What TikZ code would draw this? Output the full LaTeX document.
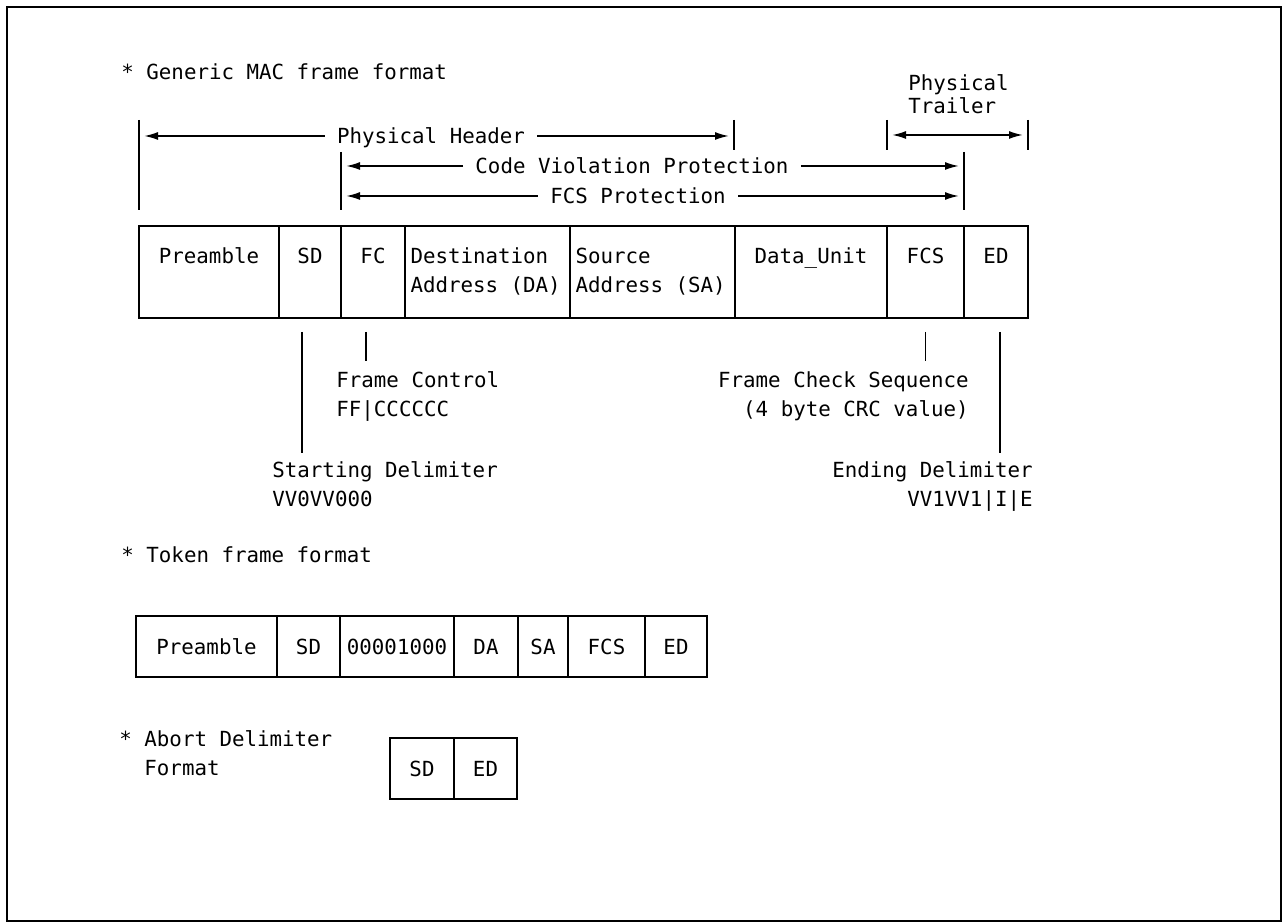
\documentclass[tikz,border=0pt]{standalone}
\usepackage{fontspec}
\setmainfont{DejaVu Sans Mono}
\usetikzlibrary{arrows.meta,fit}
\newcommand{\fmtlines}[2][l]{\begin{tabular}[t]{@{}#1@{}}#2\end{tabular}}
\tikzset{
	field/.style={draw,line width=0.9pt,inner sep=0pt},
	txt/.style={inner sep=0pt,anchor=base},
	dimtxt/.style={inner xsep=6pt,inner ysep=0pt,text height=7.6pt,text depth=0pt},
	rule/.style={line width=0.9pt},
	dim/.style={line width=0.9pt,shorten >=2.5pt,-{Latex[length=7pt,width=4pt]}},
	dimboth/.style={dim,shorten <=2.5pt,{Latex[length=7pt,width=4pt]}-{Latex[length=7pt,width=4pt]}},
}
\begin{document}
\begin{tikzpicture}[x=0.5pt,y=-0.5pt,font=\fontsize{10.4}{14.5}\selectfont]
	\useasboundingbox (0,0) rectangle (1284,924);
	\draw[rule] (7,7) rectangle (1281,921);

	% generic MAC frame
	\node[txt,anchor=base west] (mactitle) at (121,79.5) {* Generic MAC frame format};
	\foreach \nm/\xa/\xb in {pre/139/279,sd/279/341,fc/341/405,da/405/570,sa/570/735,du/735/887,fcs/887/964,ed/964/1028}
	{
		\node[field,fit={(\xa,226) (\xb,318)}] (\nm) {};
	}
	\foreach \nm/\lbl in {pre/Preamble,sd/SD,fc/FC,du/Data\_Unit,fcs/FCS,ed/ED}
	{
		\node[txt] at ([yshift=-19.25pt]\nm.north) {\lbl};
	}
	\node[txt,anchor=base west] at ([xshift=3pt,yshift=-19.25pt]da.north west) {\fmtlines{Destination\\Address (DA)}};
	\node[txt,anchor=base west] at ([xshift=3pt,yshift=-19.25pt]sa.north west) {\fmtlines{Source\\Address (SA)}};

	% extents above the frame
	\draw[rule] (139,120) -- (139,210);
	\draw[rule] (734,120) -- (734,150);
	\draw[rule] (887,120) -- (887,150);
	\draw[rule] (1028,120) -- (1028,150);
	\draw[rule] (341,152) -- (341,210);
	\draw[rule] (964,152) -- (964,210);
	\coordinate (hdL) at (139,136);
	\coordinate (hdR) at (734,136);
	\coordinate (trL) at (887,135);
	\coordinate (trR) at (1028,135);
	\coordinate (cvL) at (341,166);
	\coordinate (cvR) at (964,166);
	\coordinate (fpL) at (341,196);
	\coordinate (fpR) at (964,196);
	\node[dimtxt] (hdr) at (431,136) {Physical Header};
	\draw[dim] (hdr) -- (hdL);
	\draw[dim] (hdr) -- (hdR);
	\node[txt,anchor=base west,font=\fontsize{10.4}{11}\selectfont] (trl) at (908,90.5) {\fmtlines{Physical\\Trailer}};
	\draw[dimboth] (trL) -- (trR);
	\node[dimtxt] (cvp) at (632,166) {Code Violation Protection};
	\draw[dim] (cvp) -- (cvL);
	\draw[dim] (cvp) -- (cvR);
	\node[dimtxt] (fcsp) at (638,196) {FCS Protection};
	\draw[dim] (fcsp) -- (fpL);
	\draw[dim] (fcsp) -- (fpR);

	% field notes below
	\draw[rule] ([xshift=-4pt,yshift=-6.5pt]sd.south) -- ++(0,121);
	\draw[rule] ([xshift=-3.5pt,yshift=-6.5pt]fc.south) -- ++(0,29);
	\draw[rule] ([yshift=-6.5pt]fcs.south) -- ++(0,29);
	\draw[rule] ([xshift=2pt,yshift=-6.5pt]ed.south) -- ++(0,121);
	\node[txt,anchor=base west] (fclbl) at (336,387.5) {\fmtlines{Frame Control\\FF|CCCCCC}};
	\node[txt,anchor=base east] (fcslbl) at (969,387.5) {\fmtlines[r]{Frame Check Sequence\\(4 byte CRC value)}};
	\node[txt,anchor=base west] (sdlbl) at (272,477.5) {\fmtlines{Starting Delimiter\\VV0VV000}};
	\node[txt,anchor=base east] (edlbl) at (1033,477.5) {\fmtlines[r]{Ending Delimiter\\VV1VV1|I|E}};

	% token frame
	\node[txt,anchor=base west] (toktitle) at (121,562.5) {* Token frame format};
	\foreach \nm/\xa/\xb/\lbl in {tpre/136/277/Preamble,tsd/277/340/SD,tfc/340/454/00001000,tda/454/518/DA,tsa/518/568/SA,tfcs/568/645/FCS,ted/645/707/ED}
	{
		\node[field,fit={(\xa,616) (\xb,677)}] (\nm) {};
		\node[txt] at ([yshift=-19.75pt]\nm.north) {\lbl};
	}

	% abort delimiter
	\node[txt,anchor=base west] (abtitle) at (119,746.5) {\fmtlines{* Abort Delimiter\\\phantom{* }Format}};
	\foreach \nm/\xa/\xb/\lbl in {asd/390/454/SD,aed/454/517/ED}
	{
		\node[field,fit={(\xa,738) (\xb,799)}] (\nm) {};
		\node[txt] at ([yshift=-19.75pt]\nm.north) {\lbl};
	}
\end{tikzpicture}
\end{document}
